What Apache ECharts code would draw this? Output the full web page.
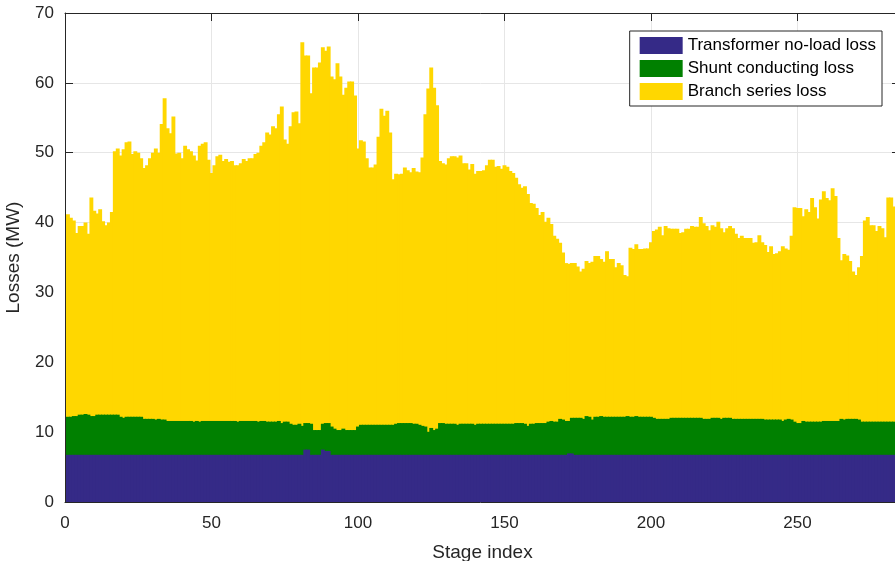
<!DOCTYPE html>
<html>

<head>
    <title>Losses per stage</title>
    <meta charset="utf-8">
    <script src="https://cdn.jsdelivr.net/npm/echarts@6/dist/echarts.min.js"></script>
    <style>
        html,
        body {
            margin: 0;
            padding: 0;
            background-color: white;
        }

        #main {
            width: 895px;
            height: 561px;
        }
    </style>
</head>

<body>
    <div id="main"></div>
</body>
<script>
    // 读图得到的数据 (MW)
    var transformerLoss = [
        6.75, 6.75, 6.75, 6.75, 6.75, 6.75, 6.75, 6.75, 6.75, 6.75,
        6.75, 6.75, 6.75, 6.75, 6.75, 6.75, 6.75, 6.75, 6.75, 6.75,
        6.75, 6.75, 6.75, 6.75, 6.75, 6.75, 6.75, 6.75, 6.75, 6.75,
        6.75, 6.75, 6.75, 6.75, 6.75, 6.75, 6.75, 6.75, 6.75, 6.75,
        6.75, 6.75, 6.75, 6.75, 6.75, 6.75, 6.75, 6.75, 6.75, 6.75,
        6.75, 6.75, 6.75, 6.75, 6.75, 6.75, 6.75, 6.75, 6.75, 6.75,
        6.75, 6.75, 6.75, 6.75, 6.75, 6.75, 6.75, 6.75, 6.75, 6.75,
        6.75, 6.75, 6.75, 6.75, 6.75, 6.75, 6.75, 6.75, 6.75, 6.75,
        6.75, 7.5, 7.5, 6.75, 6.75, 6.75, 6.75, 7.5, 7.3, 7.3,
        6.75, 6.75, 6.75, 6.75, 6.75, 6.75, 6.75, 6.75, 6.75, 6.75,
        6.75, 6.75, 6.75, 6.75, 6.75, 6.75, 6.75, 6.75, 6.75, 6.75,
        6.75, 6.75, 6.75, 6.75, 6.75, 6.75, 6.75, 6.75, 6.75, 6.75,
        6.75, 6.75, 6.75, 6.75, 6.75, 6.75, 6.75, 6.75, 6.75, 6.75,
        6.75, 6.75, 6.75, 6.75, 6.75, 6.75, 6.75, 6.75, 6.75, 6.75,
        6.75, 6.75, 6.75, 6.75, 6.75, 6.75, 6.75, 6.75, 6.75, 6.75,
        6.75, 6.75, 6.75, 6.75, 6.75, 6.75, 6.75, 6.75, 6.75, 6.75,
        6.75, 6.75, 6.75, 6.75, 6.75, 6.75, 6.75, 6.75, 6.75, 6.75,
        6.75, 6.95, 6.95, 6.75, 6.75, 6.75, 6.75, 6.75, 6.75, 6.75,
        6.75, 6.75, 6.75, 6.75, 6.75, 6.75, 6.75, 6.75, 6.75, 6.75,
        6.75, 6.75, 6.75, 6.75, 6.75, 6.75, 6.75, 6.75, 6.75, 6.75,
        6.75, 6.75, 6.75, 6.75, 6.75, 6.75, 6.75, 6.75, 6.75, 6.75,
        6.75, 6.75, 6.75, 6.75, 6.75, 6.75, 6.75, 6.75, 6.75, 6.75,
        6.75, 6.75, 6.75, 6.75, 6.75, 6.75, 6.75, 6.75, 6.75, 6.75,
        6.75, 6.75, 6.75, 6.75, 6.75, 6.75, 6.75, 6.75, 6.75, 6.75,
        6.75, 6.75, 6.75, 6.75, 6.75, 6.75, 6.75, 6.75, 6.75, 6.75,
        6.75, 6.75, 6.75, 6.75, 6.75, 6.75, 6.75, 6.75, 6.75, 6.75,
        6.75, 6.75, 6.75, 6.75, 6.75, 6.75, 6.75, 6.75, 6.75, 6.75,
        6.75, 6.75, 6.75, 6.75, 6.75, 6.75, 6.75, 6.75, 6.75, 6.75,
        6.75, 6.75, 6.75
    ];
    var shuntLoss = [
        5.45, 5.45, 5.55, 5.55, 5.75, 5.75, 5.85, 5.75, 5.55, 5.55,
        5.75, 5.75, 5.75, 5.75, 5.75, 5.75, 5.75, 5.75, 5.45, 5.3,
        5.45, 5.45, 5.45, 5.45, 5.45, 5.45, 5.15, 5.15, 5.15, 5.15,
        5.05, 5.15, 5.05, 5.05, 4.85, 4.85, 4.85, 4.85, 4.85, 4.85,
        4.85, 4.85, 4.85, 4.75, 4.85, 4.75, 4.85, 4.85, 4.85, 4.85,
        4.85, 4.85, 4.85, 4.85, 4.85, 4.85, 4.85, 4.85, 4.75, 4.85,
        4.85, 4.85, 4.85, 4.85, 4.85, 4.75, 4.85, 4.85, 4.75, 4.75,
        4.75, 4.75, 4.85, 4.55, 4.75, 4.75, 4.45, 4.3, 4.3, 4.45,
        4.15, 3.8, 3.8, 4.45, 3.55, 3.55, 3.55, 3.7, 4.0, 4.0,
        4.05, 3.75, 3.55, 3.55, 3.75, 3.55, 3.55, 3.55, 3.55, 4.05,
        4.3, 4.3, 4.3, 4.3, 4.3, 4.3, 4.3, 4.3, 4.3, 4.3,
        4.3, 4.3, 4.45, 4.55, 4.55, 4.55, 4.55, 4.55, 4.45, 4.45,
        4.3, 4.15, 4.05, 3.3, 3.85, 3.55, 3.75, 4.55, 4.55, 4.45,
        4.45, 4.45, 4.45, 4.3, 4.45, 4.45, 4.45, 4.45, 4.45, 4.3,
        4.45, 4.45, 4.45, 4.45, 4.45, 4.45, 4.45, 4.45, 4.45, 4.45,
        4.45, 4.45, 4.45, 4.55, 4.55, 4.55, 4.45, 4.15, 4.45, 4.45,
        4.55, 4.55, 4.55, 4.55, 4.75, 4.85, 4.75, 4.75, 5.15, 5.05,
        4.85, 4.65, 5.1, 5.3, 5.3, 5.3, 5.15, 5.55, 5.45, 5.05,
        5.45, 5.45, 5.55, 5.45, 5.45, 5.45, 5.45, 5.45, 5.45, 5.45,
        5.45, 5.55, 5.45, 5.45, 5.55, 5.45, 5.45, 5.45, 5.45, 5.45,
        5.3, 5.15, 5.15, 5.15, 5.15, 5.15, 5.3, 5.3, 5.3, 5.3,
        5.3, 5.3, 5.3, 5.3, 5.3, 5.3, 5.3, 5.15, 5.15, 5.15,
        5.3, 5.3, 5.3, 5.15, 5.3, 5.3, 5.3, 5.15, 5.15, 5.15,
        5.15, 5.15, 5.15, 5.15, 5.15, 5.15, 5.15, 5.15, 5.05, 5.05,
        5.05, 5.05, 5.05, 5.05, 4.85, 5.05, 5.15, 5.05, 4.75, 4.55,
        4.55, 4.85, 4.75, 4.75, 4.75, 4.75, 4.75, 4.75, 4.85, 4.85,
        4.85, 4.85, 4.85, 4.85, 5.15, 5.05, 5.15, 5.15, 5.15, 5.15,
        5.05, 4.75, 4.75, 4.75, 4.75, 4.75, 4.75, 4.75, 4.75, 4.75,
        4.75, 4.75, 4.75
    ];
    var branchLoss = [
        29.0, 28.5, 28.0, 26.2, 27.0, 27.0, 27.4, 25.9, 31.3, 29.4,
        28.8, 29.4, 27.7, 27.1, 27.5, 29.0, 37.7, 38.1, 37.4, 38.45,
        39.3, 39.4, 37.6, 38.0, 37.8, 37.0, 35.9, 36.3, 37.3, 38.1,
        38.8, 38.1, 42.3, 46.0, 41.9, 41.2, 43.6, 38.3, 38.4, 37.6,
        39.4, 38.9, 38.6, 38.1, 37.3, 39.5, 39.7, 39.9, 37.4, 35.5,
        36.6, 37.9, 38.1, 37.2, 37.5, 37.1, 37.2, 36.6, 36.7, 36.9,
        37.5, 37.2, 37.6, 37.6, 38.2, 38.5, 39.4, 39.9, 41.4, 41.1,
        42.3, 42.0, 43.9, 45.3, 40.4, 39.8, 42.6, 44.75, 44.85, 43.0,
        54.9, 52.6, 52.6, 47.3, 51.9, 51.9, 52.6, 53.9, 53.3, 53.9,
        50.1, 50.0, 52.5, 50.6, 47.8, 49.0, 49.9, 49.9, 47.9, 39.8,
        40.75, 40.55, 38.15, 36.85, 36.85, 37.25, 41.25, 45.25, 44.25, 44.95,
        41.85, 35.15, 35.8, 35.6, 35.7, 36.6, 36.2, 35.9, 36.6, 36.1,
        36.15, 38.4, 44.7, 49.15, 51.6, 49.0, 46.3, 37.5, 37.2, 37.1,
        38.0, 38.3, 38.3, 38.25, 38.4, 37.3, 37.3, 36.4, 37.2, 35.95,
        36.2, 36.2, 36.3, 37.0, 37.8, 37.8, 36.8, 36.9, 36.5, 37.0,
        36.8, 36.2, 35.9, 35.1, 34.2, 33.7, 34.0, 33.2, 31.6, 31.5,
        30.8, 29.8, 30.2, 28.8, 29.2, 28.2, 26.6, 26.2, 25.2, 23.9,
        22.6, 22.5, 22.15, 22.15, 21.65, 20.95, 21.5, 22.2, 22.0, 22.6,
        23.0, 23.0, 22.5, 22.2, 23.7, 22.6, 22.6, 21.4, 22.0, 21.7,
        20.3, 20.0, 24.2, 24.0, 24.6, 24.0, 24.0, 24.1, 24.1, 25.0,
        26.75, 27.1, 27.5, 26.3, 27.6, 27.3, 27.05, 27.05, 27.05, 26.45,
        26.55, 27.05, 27.05, 27.45, 27.35, 27.35, 28.75, 28.0, 27.6, 27.0,
        27.55, 27.35, 28.05, 27.3, 26.55, 27.15, 27.45, 27.3, 26.5, 25.9,
        26.2, 25.9, 25.9, 25.9, 25.2, 25.3, 26.3, 25.3, 25.0, 24.0,
        24.8, 23.7, 23.8, 24.1, 25.0, 24.5, 24.2, 26.3, 30.7, 30.8,
        30.8, 29.3, 30.4, 30.0, 32.0, 30.7, 29.1, 31.8, 32.9, 31.9,
        31.6, 33.3, 32.2, 26.2, 22.7, 23.7, 23.4, 22.6, 21.1, 20.6,
        21.8, 23.7, 28.8, 29.3, 28.1, 28.1, 27.3, 28.0, 27.7, 26.4,
        32.1, 32.1, 30.8
    ];
    // 阶段编号 1..283
    var stages = transformerLoss.map(function (v, i) { return i + 1; });

    var seriesNames = ['Transformer no-load loss', 'Shunt conducting loss', 'Branch series loss'];
    var seriesColors = ['#352a87', '#008000', '#ffd700'];
    var seriesValues = [transformerLoss, shuntLoss, branchLoss];

    var axisColor = '#262626';
    var fontName = 'Liberation Sans';

    // 堆叠: 每一层画到累计高度, 底层盖在上层前面
    var cumulative = stages.map(function () { return 0; });
    var series = [];
    for (var k = 0; k < seriesNames.length; k++) {
        var values = seriesValues[k];
        cumulative = cumulative.map(function (c, i) { return c + values[i]; });
        var pairs = cumulative.map(function (c, i) { return [stages[i], c]; });
        series.push({
            name: seriesNames[k],
            type: 'bar',
            barWidth: 3.9,
            barGap: '-100%',
            z: 10 - k,
            itemStyle: { color: seriesColors[k] },
            data: pairs
        });
    }

    var myChart = echarts.init(document.getElementById('main'));
    myChart.setOption({
        animation: false,
        backgroundColor: '#ffffff',
        textStyle: { fontFamily: fontName },
        grid: {
            left: 65,
            top: 13,
            width: 835,
            height: 489,
            containLabel: false,
            outerBoundsMode: 'none'
        },
        legend: {
            data: seriesNames,
            orient: 'vertical',
            right: 13,
            top: 31,
            itemWidth: 43,
            itemHeight: 17,
            itemGap: 6,
            padding: [6, 6, 6, 10],
            icon: 'rect',
            backgroundColor: '#ffffff',
            borderColor: axisColor,
            borderWidth: 1,
            borderRadius: 0,
            textStyle: { fontSize: 17, color: '#000000', fontFamily: fontName }
        },
        xAxis: [{
            type: 'value',
            min: 0,
            max: 285,
            interval: 50,
            name: 'Stage index',
            nameLocation: 'middle',
            nameGap: 41,
            nameTextStyle: { fontSize: 19, color: axisColor, fontFamily: fontName },
            axisLine: { lineStyle: { color: axisColor, width: 1 } },
            axisTick: { inside: true, length: 8, lineStyle: { color: axisColor } },
            axisLabel: {
                fontSize: 17, color: axisColor, margin: 13,
                formatter: function (v) { return v % 50 === 0 ? v : ''; }
            },
            splitLine: { show: true, lineStyle: { color: '#e6e6e6', width: 1 } }
        }, {
            type: 'value',
            position: 'top',
            min: 0,
            max: 285,
            interval: 50,
            axisLine: { show: true, onZero: false, lineStyle: { color: axisColor, width: 1 } },
            axisTick: { inside: true, length: 8, lineStyle: { color: axisColor } },
            axisLabel: { show: false },
            splitLine: { show: false }
        }],
        yAxis: [{
            type: 'value',
            min: 0,
            max: 70,
            interval: 10,
            name: 'Losses (MW)',
            nameLocation: 'middle',
            nameGap: 42,
            nameTextStyle: { fontSize: 19, color: axisColor, fontFamily: fontName },
            axisLine: { show: true, lineStyle: { color: axisColor, width: 1 } },
            axisTick: { show: true, inside: true, length: 8, lineStyle: { color: axisColor } },
            axisLabel: { fontSize: 17, color: axisColor, margin: 11 },
            splitLine: { show: true, lineStyle: { color: '#e6e6e6', width: 1 } }
        }, {
            type: 'value',
            position: 'right',
            min: 0,
            max: 70,
            interval: 10,
            axisLine: { show: true, onZero: false, lineStyle: { color: axisColor, width: 1 } },
            axisTick: { show: true, inside: true, length: 8, lineStyle: { color: axisColor } },
            axisLabel: { show: false },
            splitLine: { show: false }
        }],
        series: series
    });
</script>

</html>
